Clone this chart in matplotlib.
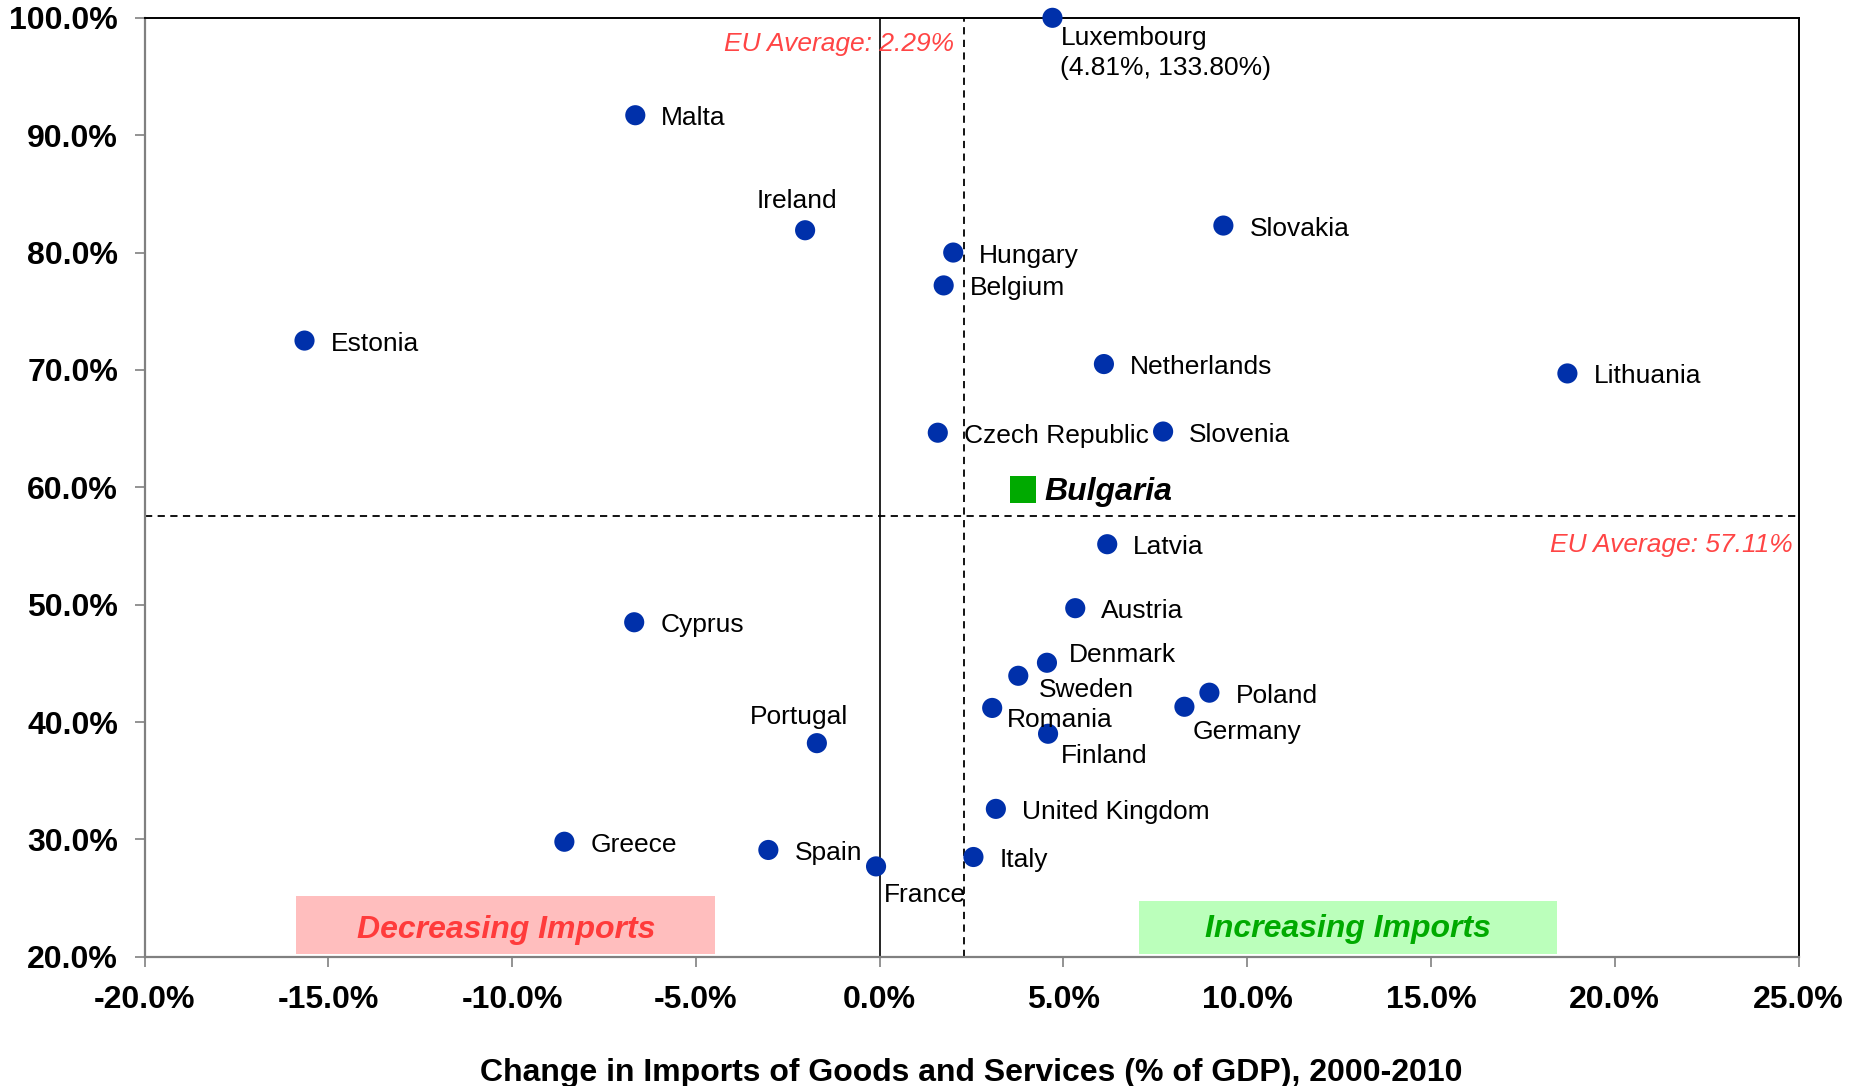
import matplotlib
matplotlib.use("Agg")
import matplotlib.pyplot as plt
from matplotlib.ticker import FuncFormatter, MultipleLocator

plt.rcParams['font.family'] = ['Liberation Sans', 'DejaVu Sans']

countries = ["Luxembourg", "Malta", "Ireland", "Hungary", "Belgium", "Slovakia", "Estonia",
             "Netherlands", "Lithuania", "Czech Republic", "Slovenia", "Latvia", "Austria",
             "Cyprus", "Denmark", "Sweden", "Poland", "Romania", "Germany", "Finland",
             "Portugal", "United Kingdom", "Greece", "Spain", "Italy", "France"]
import_change = [4.7, -6.65, -2.03, 2.0, 1.74, 9.35, -15.65,
                 6.1, 18.71, 1.58, 7.71, 6.19, 5.32,
                 -6.68, 4.55, 3.77, 8.97, 3.06, 8.29, 4.58,
                 -1.71, 3.16, -8.58, -3.03, 2.55, -0.1]
import_share = [100.0, 91.7, 81.9, 80.0, 77.2, 82.3, 72.5,
                70.5, 69.7, 64.65, 64.75, 55.15, 49.7,
                48.5, 45.05, 43.94, 42.5, 41.2, 41.3, 39.0,
                38.2, 32.6, 29.8, 29.1, 28.5, 27.7]

bulgaria_x = [3.9]
bulgaria_y = [59.8]

eu_avg_x = 2.29
eu_avg_y = 57.55

# label offsets in pixels (dx, dy, ha)
label_offsets = {
    "Ireland": (-8, 29, 'center'),
    "Portugal": (-18, 26, 'center'),
    "Denmark": (22, 8, 'left'),
    "Sweden": (21, -14, 'left'),
    "Romania": (15, -12, 'left'),
    "Finland": (13, -22, 'left'),
    "Germany": (8, -25, 'left'),
    "France": (8, -29, 'left'),
    "Poland": (26, -3, 'left'),
}

W, H = 1859, 1086
fig = plt.figure(figsize=(W / 100, H / 100), dpi=100)
ax = fig.add_axes([0.0778, 0.119, 0.9675 - 0.0778, 0.9836 - 0.119])

ax.set_xlim(-20, 25)
ax.set_ylim(20, 100)

blue = '#0030AA'
ax.scatter(import_change, import_share, s=210, color=blue, zorder=5, clip_on=False,
           edgecolors='none')
ax.scatter(bulgaria_x, bulgaria_y, s=370, marker='s', color='#00AA00', zorder=5,
           edgecolors='none')

# reference lines
ax.axvline(0, color='black', lw=1.2, zorder=2)
ax.axvline(eu_avg_x, color='black', lw=1.3, ls=(0, (4, 3)), zorder=2)
ax.axhline(eu_avg_y, color='black', lw=1.3, ls=(0, (4, 3)), zorder=2)

fs_lab = 19
for name, x, y in zip(countries, import_change, import_share):
    if name == "Luxembourg":
        ax.annotate("Luxembourg\n(4.81%, 133.80%)", (x, y), xytext=(8, -8),
                    textcoords='offset pixels', ha='left', va='top', fontsize=fs_lab,
                    linespacing=1.32, zorder=6)
        continue
    dx, dy, ha = label_offsets.get(name, (26, -3, 'left'))
    ax.annotate(name, (x, y), xytext=(dx, dy), textcoords='offset pixels',
                ha=ha, va='center', fontsize=fs_lab, zorder=6)

ax.annotate("Bulgaria", (bulgaria_x[0], bulgaria_y[0]), xytext=(21, -2),
            textcoords='offset pixels', ha='left', va='center', fontsize=23,
            fontweight='bold', fontstyle='italic', zorder=6)

red = '#FF4545'
ax.annotate("EU Average: 2.29%", (eu_avg_x, 100), xytext=(-10, -26),
            textcoords='offset pixels', ha='right', va='center', fontsize=fs_lab,
            fontstyle='italic', color=red)
ax.annotate("EU Average: 57.11%", (25, eu_avg_y), xytext=(-6, -29),
            textcoords='offset pixels', ha='right', va='center', fontsize=fs_lab,
            fontstyle='italic', color=red)

# shaded boxes
ax.add_patch(plt.Rectangle((-15.87, 20.2), 11.39, 4.95, facecolor='#FFBEBE',
                           edgecolor='none', zorder=1))
ax.text((-15.87 - 4.48) / 2, 22.3, "Decreasing Imports", ha='center', va='center',
        fontsize=23, fontweight='bold', fontstyle='italic', color='#FF3B3B', zorder=3)
ax.add_patch(plt.Rectangle((7.06, 20.2), 11.36, 4.55, facecolor='#BBFFBB',
                           edgecolor='none', zorder=1))
ax.text((7.06 + 18.42) / 2, 22.35, "Increasing Imports", ha='center', va='center',
        fontsize=23, fontweight='bold', fontstyle='italic', color='#00AA00', zorder=3)

# axes styling
ax.xaxis.set_major_locator(MultipleLocator(5))
ax.yaxis.set_major_locator(MultipleLocator(10))
ax.xaxis.set_major_formatter(FuncFormatter(lambda v, p: f"{v:.1f}%"))
ax.yaxis.set_major_formatter(FuncFormatter(lambda v, p: f"{v:.1f}%"))
for lbl in ax.get_xticklabels() + ax.get_yticklabels():
    lbl.set_fontweight('bold')
ax.tick_params(axis='both', direction='out', length=7, width=1.2, color='#808080',
               labelsize=23)
ax.tick_params(axis='x', pad=13)
ax.tick_params(axis='y', pad=12)
ax.spines['left'].set_color('#808080')
ax.spines['bottom'].set_color('#808080')
for s in ['left', 'bottom']:
    ax.spines[s].set_linewidth(1.6)
for s in ['top', 'right']:
    ax.spines[s].set_color('black')
    ax.spines[s].set_linewidth(1.4)

ax.set_xlabel("Change in Imports of Goods and Services (% of GDP), 2000-2010",
              fontsize=23, fontweight='bold', labelpad=31)

fig.savefig("out.png", dpi=100)
